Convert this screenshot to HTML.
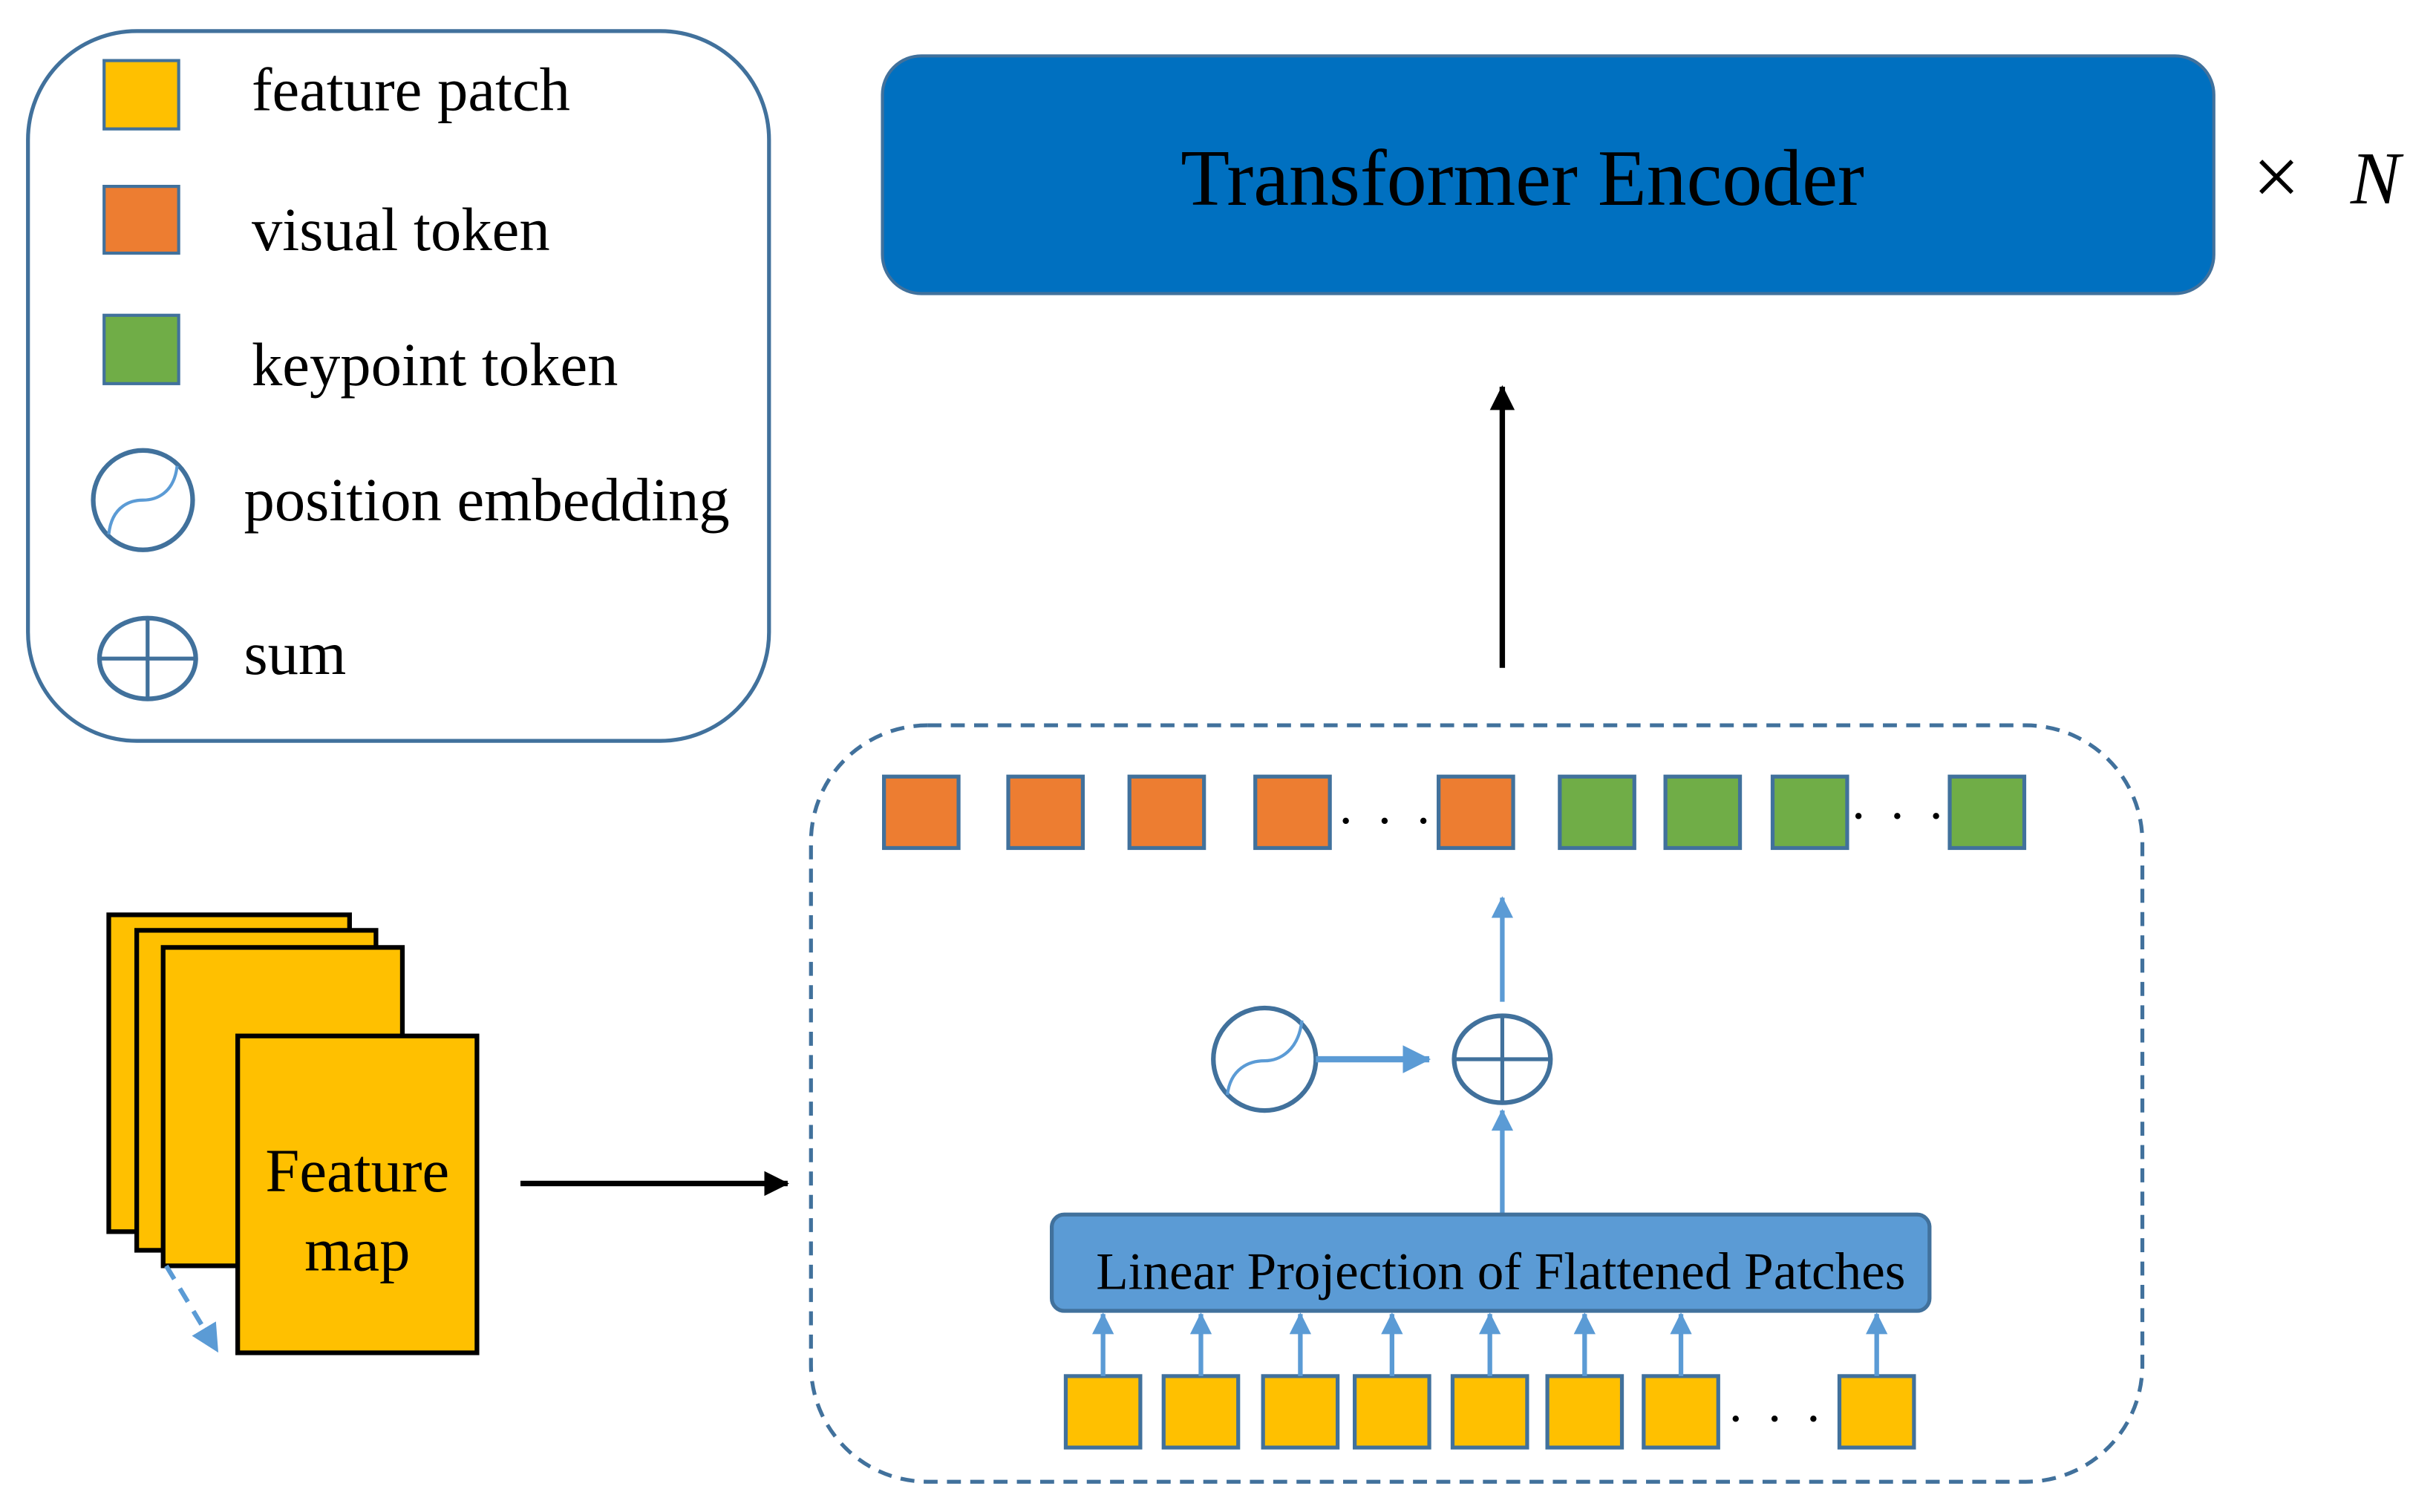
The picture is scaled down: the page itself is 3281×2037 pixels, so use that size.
<!DOCTYPE html>
<html><head><meta charset="utf-8"><style>
html,body{margin:0;padding:0;background:#fff;}
svg{display:block;}
text{font-family:"Liberation Serif","Times New Roman",serif;fill:#000;}
</style></head><body>
<svg width="3281" height="2037" viewBox="0 0 1568 973.5" xmlns="http://www.w3.org/2000/svg">
<defs>
<marker id="ab" markerWidth="16" markerHeight="16" refX="15" refY="8" orient="auto" markerUnits="userSpaceOnUse" viewBox="0 0 16 16"><path d="M0,0 L16,8 L0,16z" fill="#000"/></marker>
<marker id="bl" markerWidth="18" markerHeight="18" refX="17" refY="9" orient="auto" markerUnits="userSpaceOnUse" viewBox="0 0 18 18"><path d="M0,0 L18,9 L0,18z" fill="#5B9BD5"/></marker>
<marker id="bls" markerWidth="14" markerHeight="14" refX="13" refY="7" orient="auto" markerUnits="userSpaceOnUse" viewBox="0 0 14 14"><path d="M0,0 L14,7 L0,14z" fill="#5B9BD5"/></marker>
</defs>
<rect x="18" y="20" width="477" height="457" rx="70" fill="#fff" stroke="#41719C" stroke-width="2.5"/>
<rect x="67" y="39" width="48" height="44" fill="#FFC000" stroke="#41719C" stroke-width="2"/>
<rect x="67" y="120" width="48" height="43" fill="#ED7D31" stroke="#41719C" stroke-width="2"/>
<rect x="67" y="203" width="48" height="44" fill="#70AD47" stroke="#41719C" stroke-width="2"/>
<text x="162" y="71" font-size="39.5">feature patch</text>
<text x="162" y="161" font-size="39.5">visual token</text>
<text x="162" y="248" font-size="39.5">keypoint token</text>
<text x="157" y="335" font-size="39.5">position embedding</text>
<text x="157" y="434" font-size="39.5">sum</text>
<circle cx="92" cy="322" r="32" fill="none" stroke="#41719C" stroke-width="3"/>
<path d="M70,344 C72,325 85,322 92,322 C100,322 112,318 114,300" fill="none" stroke="#5B9BD5" stroke-width="2"/>
<ellipse cx="95" cy="424" rx="31" ry="26" fill="none" stroke="#41719C" stroke-width="3"/>
<line x1="64" y1="424" x2="126" y2="424" stroke="#41719C" stroke-width="2.5"/>
<line x1="95" y1="398" x2="95" y2="450" stroke="#41719C" stroke-width="2.5"/>
<rect x="568" y="36" width="857" height="153" rx="25" fill="#0070C0" stroke="#41719C" stroke-width="2"/>
<text x="980" y="132" font-size="51.5" text-anchor="middle">Transformer Encoder</text>
<text x="1450" y="132" font-size="54">×</text>
<text x="1513" y="131" font-size="48" font-style="italic">N</text>
<line x1="967" y1="430" x2="967" y2="249" stroke="#000" stroke-width="3.5" marker-end="url(#ab)"/>
<rect x="522" y="467" width="857" height="487" rx="75" fill="none" stroke="#41719C" stroke-width="2.5" stroke-dasharray="9,6"/>
<g stroke="#41719C" stroke-width="2.5">
<rect x="569" y="500" width="48" height="46" fill="#ED7D31"/>
<rect x="649" y="500" width="48" height="46" fill="#ED7D31"/>
<rect x="727" y="500" width="48" height="46" fill="#ED7D31"/>
<rect x="808" y="500" width="48" height="46" fill="#ED7D31"/>
<rect x="926" y="500" width="48" height="46" fill="#ED7D31"/>
<rect x="1004" y="500" width="48" height="46" fill="#70AD47"/>
<rect x="1072" y="500" width="48" height="46" fill="#70AD47"/>
<rect x="1141" y="500" width="48" height="46" fill="#70AD47"/>
<rect x="1255" y="500" width="48" height="46" fill="#70AD47"/>
</g>
<text x="862" y="530" font-size="34" letter-spacing="4">. . .</text>
<text x="1192" y="527" font-size="34" letter-spacing="4">. . .</text>
<line x1="967" y1="645" x2="967" y2="578" stroke="#5B9BD5" stroke-width="3" marker-end="url(#bls)"/>
<circle cx="814" cy="682" r="33" fill="none" stroke="#41719C" stroke-width="3"/>
<path d="M790,705 C792,688 804,683 814,683 C824,683 836,676 838,657" fill="none" stroke="#5B9BD5" stroke-width="2"/>
<line x1="847" y1="682" x2="920" y2="682" stroke="#5B9BD5" stroke-width="4" marker-end="url(#bl)"/>
<ellipse cx="967" cy="682" rx="31" ry="28" fill="none" stroke="#41719C" stroke-width="3"/>
<line x1="936" y1="682" x2="998" y2="682" stroke="#41719C" stroke-width="2.5"/>
<line x1="967" y1="654" x2="967" y2="710" stroke="#41719C" stroke-width="2.5"/>
<line x1="967" y1="781" x2="967" y2="715" stroke="#5B9BD5" stroke-width="3" marker-end="url(#bls)"/>
<rect x="677" y="782" width="565" height="62" rx="8" fill="#5B9BD5" stroke="#41719C" stroke-width="2.5"/>
<text x="966" y="830" font-size="34" text-anchor="middle">Linear Projection of Flattened Patches</text>
<g stroke="#41719C" stroke-width="2.5" fill="#FFC000">
<rect x="686" y="886" width="48" height="46"/>
<rect x="749" y="886" width="48" height="46"/>
<rect x="813" y="886" width="48" height="46"/>
<rect x="872" y="886" width="48" height="46"/>
<rect x="935" y="886" width="48" height="46"/>
<rect x="996" y="886" width="48" height="46"/>
<rect x="1058" y="886" width="48" height="46"/>
<rect x="1184" y="886" width="48" height="46"/>
</g>
<g stroke="#5B9BD5" stroke-width="3">
<line x1="710" y1="886" x2="710" y2="846" marker-end="url(#bls)"/>
<line x1="773" y1="886" x2="773" y2="846" marker-end="url(#bls)"/>
<line x1="837" y1="886" x2="837" y2="846" marker-end="url(#bls)"/>
<line x1="896" y1="886" x2="896" y2="846" marker-end="url(#bls)"/>
<line x1="959" y1="886" x2="959" y2="846" marker-end="url(#bls)"/>
<line x1="1020" y1="886" x2="1020" y2="846" marker-end="url(#bls)"/>
<line x1="1082" y1="886" x2="1082" y2="846" marker-end="url(#bls)"/>
<line x1="1208" y1="886" x2="1208" y2="846" marker-end="url(#bls)"/>
</g>
<text x="1113" y="915" font-size="34" letter-spacing="4">. . .</text>
<g stroke="#000" stroke-width="3" fill="#FFC000">
<rect x="70" y="589" width="155" height="204"/>
<rect x="88" y="599" width="154" height="206"/>
<rect x="105" y="610" width="154" height="205"/>
<rect x="153" y="667" width="154" height="204"/>
</g>
<text x="230" y="767" font-size="39.5" text-anchor="middle">Feature</text>
<text x="230" y="818" font-size="39.5" text-anchor="middle">map</text>
<line x1="107" y1="815" x2="140" y2="870" stroke="#5B9BD5" stroke-width="3" stroke-dasharray="10,7" marker-end="url(#bl)"/>
<line x1="335" y1="762" x2="507" y2="762" stroke="#000" stroke-width="3.5" marker-end="url(#ab)"/>
</svg>
</body></html>
